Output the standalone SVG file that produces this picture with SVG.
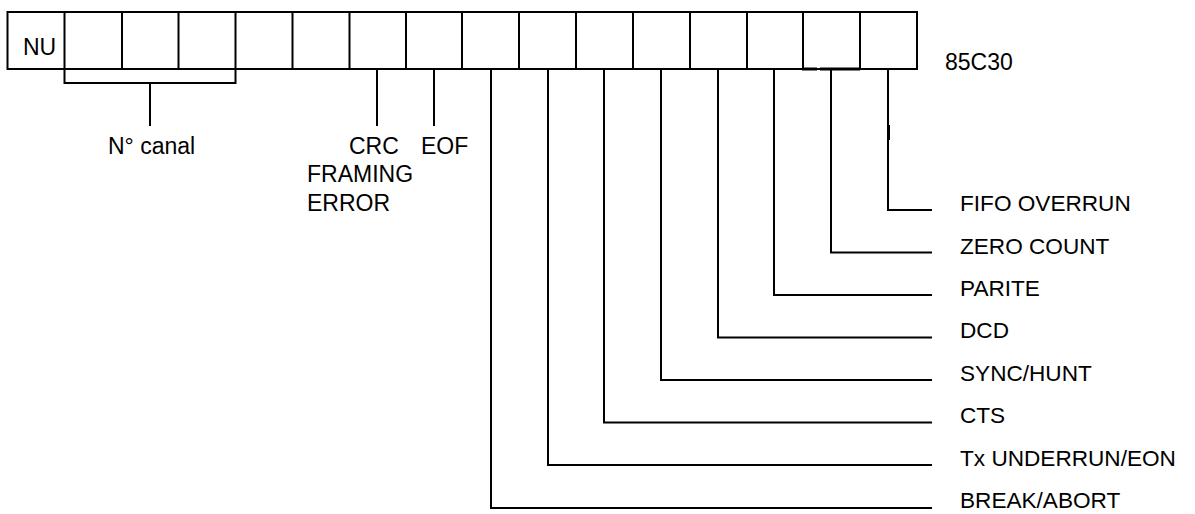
<svg xmlns="http://www.w3.org/2000/svg" width="1195" height="514" viewBox="0 0 1195 514">
<style>
.b{fill:none;stroke:#000;stroke-width:2}
.c{fill:none;stroke:#000;stroke-width:2}
.t{font-family:"Liberation Sans",Arial,sans-serif;font-size:23px;fill:#000}
.r{font-size:22.6px}
</style>
<rect x="0" y="0" width="1195" height="514" fill="#fff"/>
<g id="register">
<rect class="b" x="7.5" y="12" width="909.5" height="57"/>
<path class="b" d="M64.5 12V69M122 12V69M178.5 12V69M235.5 12V69M292.5 12V69M349.5 12V69M406 12V69M462 12V69M519 12V69M576 12V69M633 12V69M690 12V69M747 12V69M803 12V69M860 12V69"/>
<path stroke="#000" stroke-width="3" fill="none" d="M802 69H817M820 69H860"/>
<text class="t" x="23" y="55">NU</text>
<text class="t" x="945" y="70">85C30</text>
</g>
<g id="connectors">
<path class="c" d="M64.5 69V83H235.5V69M150 83V126"/>
<path class="c" d="M377 69V126"/>
<path class="c" d="M434 69V126"/>
<path class="c" d="M888 69V210H932"/>
<rect x="887" y="125" width="3" height="15" fill="#000"/>
<path class="c" d="M831 69V252.5H932"/>
<path class="c" d="M774 69V295H932"/>
<path class="c" d="M718 69V337.5H932"/>
<path class="c" d="M661 69V380H932"/>
<path class="c" d="M604 69V422.5H932"/>
<path class="c" d="M548 69V465H932"/>
<path class="c" d="M491 69V508H932"/>
</g>
<g id="label-canal"><text class="t" x="108" y="154">N° canal</text></g>
<g id="label-crc"><text class="t" x="349" y="154">CRC</text><text class="t" x="307" y="182">FRAMING</text><text class="t" x="307" y="211">ERROR</text></g>
<g id="label-eof"><text class="t" x="421" y="154">EOF</text></g>
<g id="label-fifo"><text class="t r" x="960" y="211">FIFO OVERRUN</text></g>
<g id="label-zero"><text class="t r" x="960" y="254">ZERO COUNT</text></g>
<g id="label-parite"><text class="t r" x="960" y="296">PARITE</text></g>
<g id="label-dcd"><text class="t r" x="960" y="338">DCD</text></g>
<g id="label-sync"><text class="t r" x="960" y="381">SYNC/HUNT</text></g>
<g id="label-cts"><text class="t r" x="960" y="423">CTS</text></g>
<g id="label-tx"><text class="t r" x="960" y="466">Tx UNDERRUN/EON</text></g>
<g id="label-break"><text class="t r" x="960" y="508">BREAK/ABORT</text></g>
</svg>
